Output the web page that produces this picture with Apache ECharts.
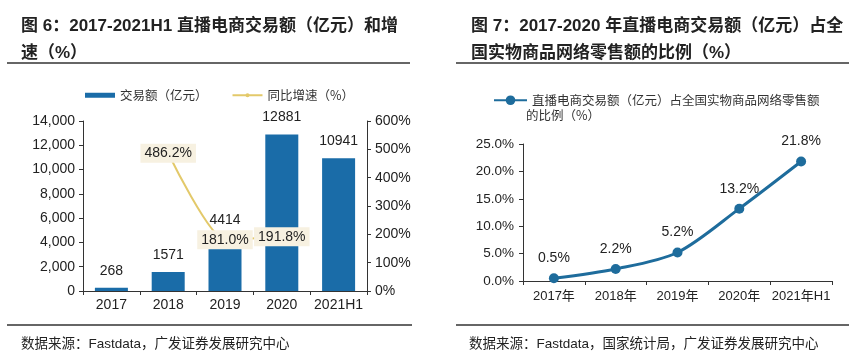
<!DOCTYPE html>
<html><head><meta charset="utf-8">
<script src="https://cdn.jsdelivr.net/npm/echarts@6/dist/echarts.min.js"></script>
<style>html,body{margin:0;padding:0;background:#fff}#c{width:849px;height:355px}</style>
</head><body><div id="c"></div>
<script>
const leftCats = ['2017','2018','2019','2020','2021H1'];
const gmv = [268, 1571, 4414, 12881, 10941];
const growth = [null, 486.2, 181.0, 191.8, null];
const rightCats = ['2017年','2018年','2019年','2020年','2021年H1'];
const share = [0.5, 2.2, 5.2, 13.2, 21.8];

const F = '"Liberation Sans", Arial, "Noto Sans CJK SC", sans-serif';
const CJK = '"Noto Sans CJK SC", sans-serif';
const chart = echarts.init(document.getElementById('c'));
const axisLine = {show:true, lineStyle:{color:'#333', width:1}};
const tick = {show:true, length:4, lineStyle:{color:'#333'}};
chart.setOption({
  animation:false,
  backgroundColor:'#fff',
  textStyle:{fontFamily:F},
  title:[
    {text:'图 6：2017-2021H1 直播电商交易额（亿元）和增\n速（%）', left:16, top:8,
     textStyle:{fontFamily:F, fontSize:17, fontWeight:'bold', color:'#222', lineHeight:27}},
    {text:'图 7：2017-2020 年直播电商交易额（亿元）占全\n国实物商品网络零售额的比例（%）', left:466, top:8,
     textStyle:{fontFamily:F, fontSize:17, fontWeight:'bold', color:'#222', lineHeight:27}},
    {text:'数据来源：Fastdata，广发证券发展研究中心', left:16, top:333,
     textStyle:{fontFamily:F, fontSize:13.5, fontWeight:'normal', color:'#222'}},
    {text:'数据来源：Fastdata，国家统计局，广发证券发展研究中心', left:464, top:333,
     textStyle:{fontFamily:F, fontSize:13.5, fontWeight:'normal', color:'#222'}}
  ],
  graphic:[
    {type:'line', shape:{x1:7,y1:63,x2:410,y2:63}, style:{stroke:'#333', lineWidth:1.5}},
    {type:'line', shape:{x1:456,y1:63,x2:849,y2:63}, style:{stroke:'#333', lineWidth:1.5}},
    {type:'line', shape:{x1:7,y1:325,x2:412,y2:325}, style:{stroke:'#333', lineWidth:1.5}},
    {type:'line', shape:{x1:456,y1:325,x2:849,y2:325}, style:{stroke:'#333', lineWidth:1.5}},
    {type:'text', left:526, top:109, style:{text:'的比例（%）', font:'12.5px "Noto Sans CJK SC"', fill:'#333'}}
  ],
  legend:[
    {data:[{name:'交易额（亿元）', icon:'rect'}, {name:'同比增速（%）'}], left:80, top:84, itemGap:24,
     itemWidth:30, itemHeight:5, textStyle:{fontFamily:CJK, fontSize:12.5, color:'#333'}},
    {data:['直播电商交易额（亿元）占全国实物商品网络零售额'], left:488, top:89, itemWidth:33, itemHeight:12,
     textStyle:{fontFamily:CJK, fontSize:12.5, color:'#333'}}
  ],
  grid:[
    {left:83, right:482, top:121, bottom:64},
    {left:523, right:17, top:144, bottom:74}
  ],
  xAxis:[
    {type:'category', gridIndex:0, data:leftCats, axisLine:axisLine, axisTick:tick,
     axisLabel:{interval:0, fontSize:14, color:'#222', margin:7}},
    {type:'category', gridIndex:1, data:rightCats, axisLine:axisLine, axisTick:tick,
     axisLabel:{interval:0, fontSize:13, color:'#222', margin:9}}
  ],
  yAxis:[
    {type:'value', gridIndex:0, min:0, max:14000, interval:2000, axisLine:axisLine, axisTick:tick,
     splitLine:{show:false}, axisLabel:{fontSize:14, color:'#222', margin:8,
       formatter:v=>v.toLocaleString('en-US')}},
    {type:'value', gridIndex:0, min:0, max:600, interval:100, position:'right', axisLine:axisLine,
     axisTick:tick, splitLine:{show:false}, axisLabel:{fontSize:14, color:'#222', margin:8, formatter:'{value}%'}},
    {type:'value', gridIndex:1, min:0, max:25, interval:5, axisLine:axisLine, axisTick:tick,
     splitLine:{show:false}, axisLabel:{fontSize:13.5, color:'#222', margin:9, formatter:v=>v.toFixed(1)+'%'}}
  ],
  series:[
    {name:'交易额（亿元）', type:'bar', xAxisIndex:0, yAxisIndex:0, data:gmv, barWidth:33,
     itemStyle:{color:'#1A6CA8'}, z:2,
     label:{show:true, position:'top', distance:10, fontSize:14, color:'#222'}},
    {name:'同比增速（%）', type:'line', xAxisIndex:0, yAxisIndex:1, data:growth, smooth:0.2,
     connectNulls:false, symbol:'circle', symbolSize:5, z:5,
     lineStyle:{color:'#E3C96A', width:2}, itemStyle:{color:'#E3C96A'},
     label:{show:true, position:'inside', fontSize:14, color:'#222', backgroundColor:'#F7F1E1',
       padding:[3,4,2,4], formatter:p=>p.value.toFixed(1)+'%'}},
    {name:'直播电商交易额（亿元）占全国实物商品网络零售额', type:'line', xAxisIndex:1, yAxisIndex:2,
     data:share, smooth:0.3, symbol:'circle', symbolSize:10,
     lineStyle:{color:'#1E6C9C', width:3}, itemStyle:{color:'#1E6C9C'},
     label:{show:true, position:'top', distance:8, fontSize:14, color:'#222', formatter:p=>p.value.toFixed(1)+'%'}}
  ]
});
</script></body></html>
